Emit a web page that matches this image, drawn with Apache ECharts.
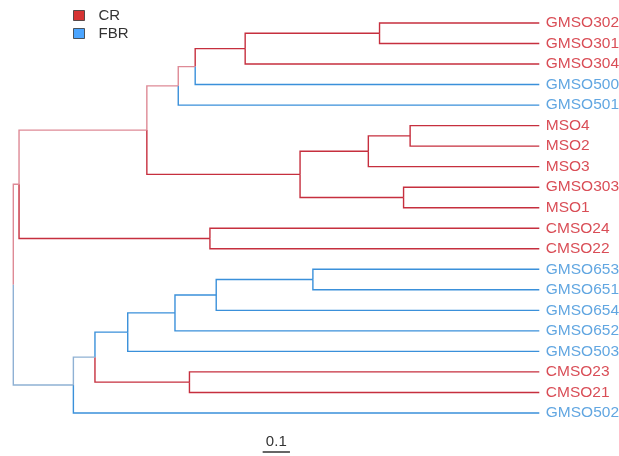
<!DOCTYPE html>
<html><head><meta charset="utf-8">
<script src="https://cdn.jsdelivr.net/npm/echarts@6/dist/echarts.min.js"></script>
<style>html,body{margin:0;padding:0;background:#fff}#c{width:619px;height:456px}</style>
</head><body><div id="c"></div>
<script>
// Leaves (top to bottom) and their group
const leaves = ['GMSO302','GMSO301','GMSO304','GMSO500','GMSO501','MSO4','MSO2','MSO3','GMSO303','MSO1','CMSO24','CMSO22','GMSO653','GMSO651','GMSO654','GMSO652','GMSO503','CMSO23','CMSO21','GMSO502'];
const groups = ['CR','CR','CR','FBR','FBR','CR','CR','CR','CR','CR','CR','CR','FBR','FBR','FBR','FBR','FBR','CR','CR','FBR'];
// Internal nodes: name, child A, child B, distance from root
const nodeNames = ['F','E','D','C','I','H','J','G','B','K','A','Q','P','O','N','R','M','L','root'];
const nodeChildA = ['GMSO302','F','E','D','MSO4','I','GMSO303','H','C','CMSO24','B','GMSO653','Q','P','O','CMSO23','N','M','A'];
const nodeChildB = ['GMSO301','GMSO304','GMSO500','GMSO501','MSO2','MSO3','MSO1','J','G','CMSO22','K','GMSO651','GMSO654','GMSO652','GMSO503','CMSO21','R','GMSO502','L'];
const nodeDepth = [1.341,0.849,0.666,0.604,1.453,1.300,1.429,1.050,0.489,0.720,0.021,1.097,0.743,0.592,0.419,0.645,0.299,0.220,0];
const tipDepth = 1.926;
const scaleBar = [0.913, 0.1]; // start, length
const legendNames = ['CR','FBR'];

const RED = '#c62f3e', BLUE = '#3a90da', PINK = '#de8a96', GREYBLUE = '#8fb1d4';
const info = {};
leaves.forEach((n,i)=>{ info[n] = {y:i, x:tipDepth, red:groups[i]==='CR'?1:0, n:1}; });
nodeNames.forEach((n,k)=>{
  const a = info[nodeChildA[k]], b = info[nodeChildB[k]];
  info[n] = {y:(a.y+b.y)/2, x:nodeDepth[k], red:a.red+b.red, n:a.n+b.n};
});
function col(nm){ const f = info[nm].red/info[nm].n; if(f===1) return RED; if(f===0) return BLUE; return f>=0.5?PINK:GREYBLUE; }
const segs = [];
nodeNames.forEach((n,k)=>{
  const p = info[n];
  [nodeChildA[k], nodeChildB[k]].forEach(c=>{
    const q = info[c];
    segs.push({coords:[[p.x,p.y],[p.x,q.y],[q.x,q.y]], lineStyle:{color:col(c)}});
  });
});
const labelData = leaves.map((n,i)=>({value:[tipDepth,i], label:{color: groups[i]==='CR'?'#d0202c':'#3a90da'}}));

const chart = echarts.init(document.getElementById('c'));
chart.setOption({
  animation:false,
  grid:{left:13.3, right:79.7, top:2.47, bottom:2},
  xAxis:{type:'value', min:0, max:tipDepth, show:false},
  yAxis:{type:'value', min:-1, max:21, inverse:true, show:false},
  legend:{orient:'vertical', left:73, top:8, itemWidth:11, itemHeight:10, itemGap:3, icon:'rect', padding:[0,0,0,0],
    textStyle:{fontSize:15, color:'#333', fontFamily:'Liberation Sans', padding:[0,0,0,9]},
    data:[{name:legendNames[0], itemStyle:{color:'#cc0000', borderColor:'#333', borderWidth:1}},
          {name:legendNames[1], itemStyle:{color:'#1e8fff', borderColor:'#333', borderWidth:1}}]},
  series:[
    {type:'lines', coordinateSystem:'cartesian2d', polyline:true, silent:true, clip:false,
      lineStyle:{width:1.4, opacity:1}, data:segs},
    {type:'scatter', silent:true, symbolSize:1, itemStyle:{color:'transparent'}, data:labelData,
      label:{show:true, position:'right', distance:6, fontSize:15.5, fontFamily:'Liberation Sans', formatter:p=>leaves[p.dataIndex]}},
    {type:'lines', coordinateSystem:'cartesian2d', silent:true, clip:false,
      lineStyle:{width:1.5, color:'#333', opacity:1},
      label:{show:true, position:'middle', formatter:'0.1', fontSize:15, color:'#333', fontFamily:'Liberation Sans', distance:3},
      data:[{coords:[[scaleBar[0],20.9],[scaleBar[0]+scaleBar[1],20.9]]}]},
    {name:legendNames[0], type:'scatter', data:[], itemStyle:{color:'#cc0000'}},
    {name:legendNames[1], type:'scatter', data:[], itemStyle:{color:'#1e8fff'}}
  ]
});
</script></body></html>
